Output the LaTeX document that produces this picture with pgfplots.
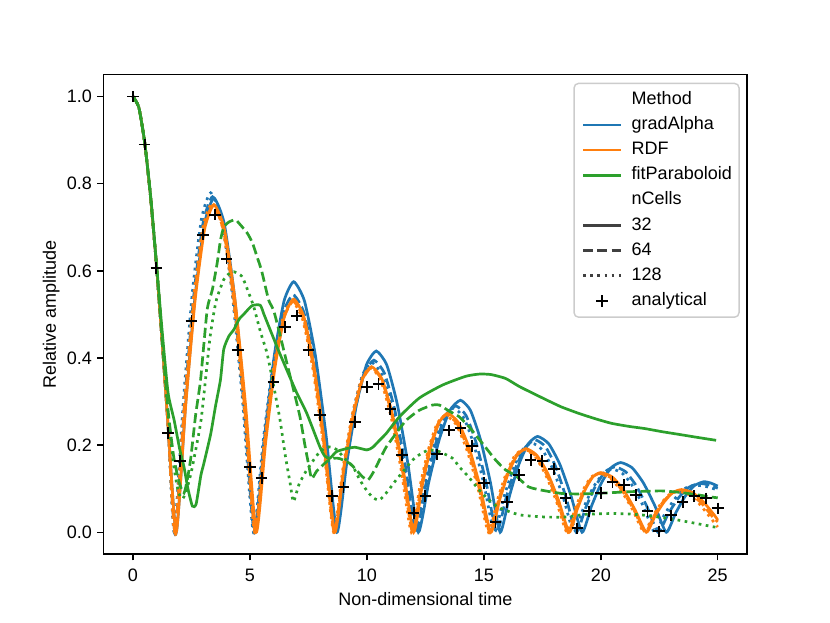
\documentclass[border=0pt]{standalone}
\usepackage{fontspec}
\setmainfont{Liberation Sans}
\usepackage{pgfplots}
\pgfplotsset{compat=1.18}
\definecolor{tabblue}{HTML}{1F77B4}
\definecolor{taborange}{HTML}{FF7F0E}
\definecolor{tabgreen}{HTML}{2CA02C}
\tikzset{
  s32/.style={line width=1.5pt, solid},
  s64/.style={line width=1.5pt, dash pattern=on 5.55pt off 2.4pt},
  s128/.style={line width=1.5pt, dash pattern=on 1.5pt off 2.475pt},
}
\pgfplotsset{
  marklegend/.style={legend image code/.code={\path[draw=none,fill=none] (0pt,0pt) -- (28pt,0pt); \draw[##1] plot coordinates {(11.5pt,0pt)};}},
  emptylegend/.style={legend image code/.code={\path[draw=none,fill=none] (0pt,0pt) -- (28pt,0pt);}},
}
\begin{document}
\fontsize{10}{12}\selectfont
\begin{tikzpicture}
\path[use as bounding box] (0,0) rectangle (460.8pt,345.6pt);
\begin{axis}[
  at={(57.6pt,38pt)}, anchor=south west,
  scale only axis, width=357.1pt, height=266.1pt,
  xmin=-1.25, xmax=26.25, ymin=-0.05, ymax=1.05,
  xtick={0,5,10,15,20,25}, ytick={0,0.2,0.4,0.6,0.8,1.0},
  /pgf/number format/assume math mode=true,
  /pgf/number format/fixed,
  tick align=outside, tick pos=left,
  major tick length=3.5pt,
  tick style={line width=0.8pt, black},
  axis line style={line width=0.8pt},
  every tick label/.append style={font=\fontsize{10}{12}\selectfont, inner sep=0pt},
  xticklabel style={anchor=base, yshift=-11.5pt},
  yticklabel style={anchor=east, xshift=-2.9pt, /pgf/number format/fixed zerofill, /pgf/number format/precision=1},
  xlabel={Non-dimensional time},
  ylabel={Relative amplitude},
  every axis x label/.style={at={(axis description cs:0.5,-0.0932)}, anchor=center, font=\fontsize{10}{12}\selectfont},
  every axis y label/.style={at={(axis description cs:-0.0815,0.5)}, anchor=center, rotate=90, font=\fontsize{10}{12}\selectfont},
  legend style={at={(1,1)}, anchor=north east, xshift=-4pt, yshift=-4.4pt,
    draw=black!20, line width=0.8pt, rounded corners=2.5pt, fill=white, fill opacity=0.8, text opacity=1,
    inner xsep=4pt, inner ysep=4.2pt, row sep=4.15pt,
    nodes={inner sep=0pt, text height=7.5pt, text depth=2.3pt, font=\fontsize{10}{12}\selectfont}},
  legend cell align=left,
  legend image code/.code={\draw[#1] (1pt,0pt) -- (22pt,0pt); \path[draw=none,fill=none] (0pt,0pt) -- (28pt,0pt);},
  every axis plot/.append style={smooth, tension=0.35},
]
% gradAlpha
\addplot[tabblue, s32, forget plot] coordinates {(0,1) (0.25,0.975) (0.5,0.895) (0.75,0.77) (1.0,0.615) (1.25,0.435) (1.5,0.245)
(1.85,0) (2.25,0.294) (2.655,0.542) (3.06,0.709) (3.46,0.767) (3.90,0.709) (4.34,0.542) (4.78,0.294) (5.22,0)
(5.63,0.220) (6.045,0.407) (6.46,0.531) (6.87,0.575) (7.33,0.531) (7.795,0.407) (8.26,0.220) (8.72,0)
(9.14,0.159) (9.56,0.294) (9.98,0.384) (10.4,0.416) (10.85,0.384) (11.3,0.294) (11.75,0.159) (12.2,0)
(12.65,0.116) (13.1,0.214) (13.55,0.280) (14.0,0.303) (14.425,0.280) (14.85,0.214) (15.275,0.116) (15.7,0)
(16.1,0.084) (16.5,0.156) (16.9,0.203) (17.3,0.220) (17.775,0.203) (18.25,0.156) (18.725,0.084) (19.2,0)
(19.61,0.061) (20.025,0.113) (20.44,0.148) (20.85,0.160) (21.34,0.148) (21.825,0.113) (22.31,0.061) (22.8,0)
(23.2,0.044) (23.6,0.082) (24.0,0.107) (24.4,0.116) (24.7,0.113) (25.0,0.106)};
\addplot[tabblue, s64, forget plot] coordinates {(0,1) (0.25,0.975) (0.5,0.895) (0.75,0.77) (1.0,0.615) (1.25,0.435) (1.5,0.245)
(1.8,0) (2.2,0.295) (2.6,0.544) (3.0,0.711) (3.4,0.77) (3.845,0.711) (4.29,0.544) (4.735,0.295) (5.18,0)
(5.60,0.209) (6.015,0.385) (6.43,0.504) (6.85,0.545) (7.31,0.504) (7.765,0.385) (8.22,0.209) (8.68,0)
(9.085,0.151) (9.49,0.279) (9.895,0.365) (10.3,0.395) (10.75,0.365) (11.2,0.279) (11.65,0.151) (12.1,0)
(12.525,0.111) (12.95,0.205) (13.375,0.268) (13.8,0.29) (14.24,0.268) (14.675,0.205) (15.11,0.111) (15.55,0)
(15.96,0.081) (16.375,0.150) (16.79,0.196) (17.2,0.212) (17.64,0.196) (18.075,0.150) (18.51,0.081) (18.95,0)
(19.36,0.057) (19.775,0.106) (20.19,0.139) (20.6,0.150) (21.06,0.139) (21.525,0.106) (21.99,0.057) (22.45,0)
(22.89,0.043) (23.325,0.079) (23.76,0.103) (24.2,0.112) (24.6,0.109) (25.0,0.101)};
\addplot[tabblue, s128, forget plot] coordinates {(0,1) (0.25,0.975) (0.5,0.895) (0.75,0.77) (1.0,0.615) (1.25,0.435) (1.5,0.245)
(1.76,0) (2.15,0.298) (2.54,0.551) (2.93,0.720) (3.32,0.779) (3.78,0.720) (4.235,0.551) (4.69,0.298) (5.15,0)
(5.56,0.207) (5.975,0.382) (6.39,0.499) (6.8,0.54) (7.255,0.499) (7.71,0.382) (8.165,0.207) (8.62,0)
(9.015,0.149) (9.41,0.276) (9.805,0.360) (10.2,0.39) (10.66,0.360) (11.125,0.276) (11.59,0.149) (12.05,0)
(12.46,0.109) (12.875,0.201) (13.29,0.263) (13.7,0.285) (14.14,0.263) (14.575,0.201) (15.01,0.109) (15.45,0)
(15.85,0.079) (16.25,0.145) (16.65,0.189) (17.05,0.205) (17.5,0.189) (17.95,0.145) (18.4,0.079) (18.85,0)
(19.26,0.056) (19.675,0.103) (20.09,0.134) (20.5,0.145) (20.95,0.134) (21.4,0.103) (21.85,0.056) (22.3,0)
(22.725,0.041) (23.15,0.076) (23.575,0.100) (24.0,0.108) (24.5,0.105) (25.0,0.097)};
% RDF
\addplot[taborange, s32, forget plot] coordinates {(0,1) (0.25,0.975) (0.5,0.895) (0.75,0.77) (1.0,0.615) (1.25,0.435) (1.5,0.245)
(1.85,0) (2.25,0.288) (2.655,0.532) (3.06,0.695) (3.46,0.752) (3.91,0.695) (4.365,0.532) (4.82,0.288) (5.27,0)
(5.67,0.205) (6.07,0.378) (6.47,0.494) (6.87,0.535) (7.31,0.494) (7.75,0.378) (8.19,0.205) (8.63,0)
(9.02,0.146) (9.415,0.269) (9.81,0.351) (10.2,0.38) (10.65,0.351) (11.1,0.269) (11.55,0.146) (12.0,0)
(12.36,0.105) (12.725,0.193) (13.09,0.252) (13.45,0.273) (13.91,0.252) (14.375,0.193) (14.84,0.105) (15.3,0)
(15.675,0.074) (16.05,0.136) (16.425,0.177) (16.8,0.192) (17.26,0.177) (17.725,0.136) (18.19,0.074) (18.65,0)
(18.99,0.052) (19.325,0.097) (19.66,0.127) (20.0,0.137) (20.49,0.127) (20.975,0.097) (21.46,0.052) (21.95,0)
(22.325,0.038) (22.7,0.069) (23.075,0.091) (23.45,0.098) (23.925,0.091) (24.4,0.069) (24.875,0.038) (25.0,0.028)};
\addplot[taborange, s64, forget plot] coordinates {(0,1) (0.25,0.975) (0.5,0.895) (0.75,0.77) (1.0,0.615) (1.25,0.435) (1.5,0.245)
(1.8,0) (2.205,0.287) (2.61,0.530) (3.015,0.693) (3.42,0.75) (3.87,0.693) (4.32,0.530) (4.77,0.287) (5.22,0)
(5.63,0.203) (6.035,0.375) (6.44,0.490) (6.85,0.53) (7.29,0.490) (7.725,0.375) (8.16,0.203) (8.6,0)
(9.0,0.145) (9.4,0.267) (9.8,0.349) (10.2,0.378) (10.64,0.349) (11.075,0.267) (11.51,0.145) (11.95,0)
(12.31,0.103) (12.675,0.191) (13.04,0.249) (13.4,0.27) (13.86,0.249) (14.325,0.191) (14.79,0.103) (15.25,0)
(15.625,0.073) (16.0,0.134) (16.375,0.176) (16.75,0.19) (17.21,0.176) (17.675,0.134) (18.14,0.073) (18.6,0)
(18.94,0.052) (19.275,0.095) (19.61,0.125) (19.95,0.135) (20.44,0.125) (20.925,0.095) (21.41,0.052) (21.9,0)
(22.26,0.036) (22.625,0.067) (22.99,0.088) (23.35,0.095) (23.825,0.088) (24.3,0.067) (24.775,0.036) (25.0,0.024)};
\addplot[taborange, s128, forget plot] coordinates {(0,1) (0.25,0.975) (0.5,0.895) (0.75,0.77) (1.0,0.615) (1.25,0.435) (1.5,0.245)
(1.78,0) (2.18,0.289) (2.58,0.534) (2.98,0.698) (3.38,0.755) (3.835,0.698) (4.29,0.534) (4.745,0.289) (5.2,0)
(5.6,0.203) (6.0,0.375) (6.4,0.490) (6.8,0.53) (7.245,0.490) (7.69,0.375) (8.135,0.203) (8.58,0)
(8.97,0.145) (9.365,0.267) (9.76,0.349) (10.15,0.378) (10.59,0.349) (11.025,0.267) (11.46,0.145) (11.9,0)
(12.26,0.103) (12.625,0.189) (12.99,0.248) (13.35,0.268) (13.81,0.248) (14.275,0.189) (14.74,0.103) (15.2,0)
(15.575,0.073) (15.95,0.134) (16.325,0.176) (16.7,0.19) (17.16,0.176) (17.625,0.134) (18.09,0.073) (18.55,0)
(18.89,0.052) (19.225,0.095) (19.56,0.125) (19.9,0.135) (20.39,0.125) (20.875,0.095) (21.36,0.052) (21.85,0)
(22.21,0.036) (22.575,0.066) (22.94,0.087) (23.3,0.094) (23.75,0.087) (24.2,0.066) (24.65,0.036) (25.0,0.012)};
% fitParaboloid
\addplot[tabgreen, s32, forget plot] coordinates {(0,1) (0.25,0.975) (0.5,0.895) (0.75,0.775) (1.0,0.62) (1.25,0.46) (1.5,0.32) (1.76,0.257) (2.0,0.19) (2.18,0.15) (2.35,0.1) (2.54,0.06) (2.7,0.065) (2.9,0.13) (3.03,0.158) (3.32,0.225) (3.53,0.29) (3.74,0.35) (3.88,0.42) (4.1,0.45) (4.31,0.465) (4.55,0.49) (4.73,0.50) (5.09,0.52) (5.44,0.521) (5.6,0.5) (5.87,0.464) (6.2,0.42) (6.58,0.372) (7.0,0.32) (7.43,0.273) (7.99,0.196) (8.2,0.175) (8.42,0.17) (8.7,0.185) (9.13,0.192) (9.5,0.195) (10.0,0.189) (10.25,0.195) (10.54,0.211) (10.83,0.227) (11.39,0.265) (12.24,0.308) (13.24,0.338) (14.23,0.358) (14.8,0.363) (15.3,0.362) (15.93,0.353) (16.5,0.335) (17.06,0.32) (17.63,0.305) (18.3,0.288) (19.05,0.273) (19.8,0.26) (20.46,0.25) (21.2,0.243) (21.88,0.238) (22.6,0.231) (23.3,0.225) (24.1,0.218) (24.93,0.211)};
\addplot[tabgreen, s64, forget plot] coordinates {(0,1) (0.25,0.975) (0.5,0.895) (0.75,0.77) (1.0,0.615) (1.25,0.44) (1.5,0.28) (1.75,0.17) (2.0,0.11) (2.18,0.09) (2.32,0.12) (2.47,0.17) (2.68,0.27) (2.89,0.35) (3.17,0.51) (3.39,0.556) (3.6,0.618) (3.74,0.67) (3.88,0.70) (4.1,0.712) (4.38,0.717) (4.6,0.705) (4.88,0.687) (5.1,0.665) (5.3,0.633) (5.5,0.6) (5.8,0.533) (6.01,0.51) (6.3,0.45) (6.58,0.388) (6.85,0.33) (7.14,0.265) (7.35,0.2) (7.5,0.158) (7.64,0.123) (7.85,0.14) (8.28,0.162) (8.6,0.17) (8.84,0.169) (9.27,0.158) (9.55,0.143) (9.8,0.128) (10.05,0.12) (10.3,0.14) (10.54,0.166) (10.83,0.196) (11.25,0.227) (11.68,0.257) (12.24,0.28) (12.81,0.292) (13.1,0.292) (13.52,0.278) (13.95,0.265) (14.4,0.24) (14.94,0.204) (15.5,0.166) (15.93,0.143) (16.36,0.13) (16.92,0.104) (17.63,0.095) (18.34,0.089) (19.0,0.088) (19.76,0.089) (20.5,0.091) (21.17,0.093) (21.9,0.094) (22.59,0.095) (23.3,0.092) (24.0,0.087) (24.72,0.081) (25.0,0.079)};
\addplot[tabgreen, s128, forget plot] coordinates {(0,1) (0.25,0.975) (0.5,0.895) (0.75,0.77) (1.0,0.615) (1.25,0.44) (1.5,0.27) (1.75,0.15) (1.95,0.09) (2.11,0.077) (2.25,0.09) (2.5,0.14) (2.89,0.25) (3.1,0.35) (3.3,0.45) (3.55,0.53) (3.88,0.58) (4.1,0.593) (4.31,0.598) (4.66,0.587) (4.95,0.549) (5.16,0.518) (5.45,0.46) (5.73,0.411) (6.0,0.34) (6.29,0.257) (6.5,0.18) (6.72,0.112) (6.86,0.07) (7.1,0.11) (7.43,0.143) (7.99,0.185) (8.4,0.196) (8.7,0.19) (9.13,0.165) (9.41,0.15) (9.7,0.12) (9.98,0.097) (10.25,0.08) (10.54,0.074) (10.9,0.095) (11.25,0.12) (11.68,0.148) (11.96,0.166) (12.3,0.18) (12.67,0.189) (13.1,0.185) (13.66,0.17) (13.95,0.15) (14.3,0.13) (14.8,0.097) (15.2,0.075) (15.6,0.058) (16.21,0.045) (16.64,0.039) (17.63,0.035) (18.5,0.035) (19.33,0.041) (20.46,0.043) (21.2,0.042) (21.88,0.039) (22.6,0.034) (23.3,0.028) (24.1,0.02) (24.86,0.012) (25,0.011)};
% legend entries
\addlegendimage{emptylegend}
\addlegendentry{Method}
\addlegendimage{tabblue, line width=1.5pt}
\addlegendentry{gradAlpha}
\addlegendimage{taborange, line width=1.5pt}
\addlegendentry{RDF}
\addlegendimage{tabgreen, line width=1.5pt}
\addlegendentry{fitParaboloid}
\addlegendimage{emptylegend}
\addlegendentry{nCells}
\addlegendimage{black!75, s32}
\addlegendentry{32}
\addlegendimage{black!75, s64}
\addlegendentry{64}
\addlegendimage{black!75, s128}
\addlegendentry{128}
% analytical
\addplot[only marks, mark=+, mark size=3.2pt, black, mark options={line width=1pt}, marklegend]
coordinates {(0,1.0) (0.5,0.89) (1.0,0.607) (1.5,0.228) (2.0,0.163) (2.5,0.485) (3.0,0.683) (3.5,0.729) (4.0,0.628) (4.5,0.418) (5.0,0.149) (5.5,0.124) (6.0,0.345) (6.5,0.471) (7.0,0.497) (7.5,0.418) (8.0,0.269) (8.5,0.083) (9.0,0.103) (9.5,0.253) (10.0,0.333) (10.5,0.340) (11.0,0.283) (11.5,0.177) (12.0,0.044) (12.5,0.083) (13.0,0.179) (13.5,0.234) (14.0,0.239) (14.5,0.198) (15.0,0.113) (15.5,0.023) (16.0,0.069) (16.5,0.131) (17.0,0.166) (17.5,0.163) (18.0,0.145) (18.5,0.078) (19.0,0.009) (19.5,0.048) (20.0,0.090) (20.5,0.115) (21.0,0.108) (21.5,0.085) (22.0,0.048) (22.5,0.002) (23.0,0.039) (23.5,0.069) (24.0,0.083) (24.5,0.078) (25.0,0.055)};
\addlegendentry{analytical}
\end{axis}
\end{tikzpicture}
\end{document}
